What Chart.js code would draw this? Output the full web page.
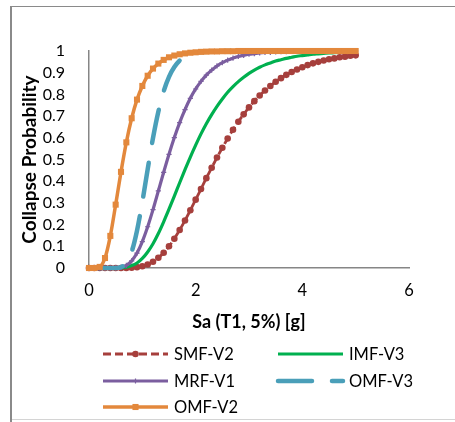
<!DOCTYPE html>
<html>
<head>
<meta charset="utf-8">
<title>Collapse fragility curves</title>
<script src="https://cdn.jsdelivr.net/npm/chart.js@4.4.1/dist/chart.umd.min.js"></script>
<style>
  html, body { margin: 0; padding: 0; background: #fff; }
  #wrap { width: 455px; height: 422px; position: relative; }
</style>
</head>
<body>
<div id="wrap"><canvas id="fragility" width="455" height="422"></canvas></div>
<script>
// Sa (T1, 5%) [g]
const saValues = [
  0, 0.1, 0.2, 0.3, 0.4, 0.5, 0.6, 0.7, 0.8, 0.9,
  1.0, 1.1, 1.2, 1.3, 1.4, 1.5, 1.6, 1.7, 1.8, 1.9,
  2.0, 2.1, 2.2, 2.3, 2.4, 2.5, 2.6, 2.7, 2.8, 2.9,
  3.0, 3.1, 3.2, 3.3, 3.4, 3.5, 3.6, 3.7, 3.8, 3.9,
  4.0, 4.1, 4.2, 4.3, 4.4, 4.5, 4.6, 4.7, 4.8, 4.9, 5.0
];

// collapse probability per frame
const smfV2 = [
  0, 0, 0, 0, 0, 0, 0, 0, 0.001, 0.004,
  0.008, 0.016, 0.029, 0.047, 0.070, 0.100, 0.135, 0.175, 0.219, 0.266,
  0.315, 0.364, 0.414, 0.462, 0.509, 0.554, 0.597, 0.637, 0.674, 0.708,
  0.740, 0.769, 0.795, 0.818, 0.839, 0.858, 0.875, 0.890, 0.903, 0.915,
  0.925, 0.935, 0.943, 0.950, 0.956, 0.962, 0.966, 0.971, 0.974, 0.978, 0.980
];
const imfV3 = [
  0, 0, 0, 0, 0, 0, 0.001, 0.004, 0.011, 0.023,
  0.044, 0.074, 0.112, 0.159, 0.213, 0.271, 0.331, 0.393, 0.453, 0.511,
  0.566, 0.618, 0.665, 0.707, 0.745, 0.779, 0.810, 0.836, 0.859, 0.879,
  0.897, 0.912, 0.925, 0.936, 0.945, 0.954, 0.960, 0.966, 0.971, 0.976,
  0.979, 0.982, 0.985, 0.987, 0.989, 0.991, 0.992, 0.993, 0.994, 0.995, 0.996
];
const mrfV1 = [
  0, 0, 0, 0, 0, 0.001, 0.003, 0.012, 0.033, 0.069,
  0.122, 0.190, 0.269, 0.355, 0.441, 0.524, 0.601, 0.670, 0.730, 0.782,
  0.825, 0.860, 0.889, 0.912, 0.931, 0.946, 0.958, 0.967, 0.975, 0.980,
  0.985, 0.988, 0.991, 0.993, 0.994, 0.996, 0.997, 0.997, 0.998, 0.998,
  0.999, 0.999, 0.999, 0.999, 0.999, 1, 1, 1, 1, 1, 1
];
const omfV3 = [
  0, 0, 0, 0, 0, 0, 0.004, 0.023, 0.075, 0.172,
  0.305, 0.455, 0.599, 0.720, 0.814, 0.881, 0.926, 0.956, 0.974, 0.985,
  0.991, 0.995, 0.997, 0.998, 0.999, 0.999, 1, 1, 1, 1,
  1, 1, 1, 1, 1, 1, 1, 1, 1, 1,
  1, 1, 1, 1, 1, 1, 1, 1, 1, 1, 1
];
const omfV2 = [
  0, 0, 0.005, 0.046, 0.148, 0.292, 0.443, 0.579, 0.690, 0.776,
  0.839, 0.886, 0.919, 0.942, 0.959, 0.971, 0.979, 0.985, 0.989, 0.992,
  0.994, 0.996, 0.997, 0.998, 0.998, 0.999, 0.999, 0.999, 1, 1,
  1, 1, 1, 1, 1, 1, 1, 1, 1, 1,
  1, 1, 1, 1, 1, 1, 1, 1, 1, 1, 1
];

const xTicks = [0, 2, 4, 6];
const yTicks = [0, 0.1, 0.2, 0.3, 0.4, 0.5, 0.6, 0.7, 0.8, 0.9, 1];

const toPoints = (ys) => saValues.map((x, i) => ({ x, y: ys[i] }));

const FONT = "Lato, 'Liberation Sans', sans-serif";
Chart.defaults.font.family = FONT;
Chart.defaults.color = "#000";

// ── Frame round the whole figure ─────────────────────────────────────────
const framePlugin = {
  id: "framePlugin",
  beforeDraw(chart) {
    const { ctx, width, height } = chart;
    ctx.save();
    ctx.fillStyle = "#fff";
    ctx.fillRect(0, 0, width, height);
    ctx.lineWidth = 1;
    ctx.strokeStyle = "#8a8a8a";
    ctx.beginPath();
    ctx.moveTo(10, 6.5);
    ctx.lineTo(width, 6.5);
    ctx.stroke();
    ctx.lineWidth = 2;
    ctx.beginPath();
    ctx.moveTo(11, 6);
    ctx.lineTo(11, height);
    ctx.stroke();
    ctx.lineWidth = 1;
    ctx.strokeStyle = "#d4d4d4";
    ctx.beginPath();
    ctx.moveTo(12, 419.5);
    ctx.lineTo(width, 419.5);
    ctx.stroke();
    ctx.restore();
  },
};

// ── Two-column legend under the axis title ───────────────────────────────
const legendSlots = [
  { index: 0, col: 0, row: 0 },
  { index: 1, col: 1, row: 0 },
  { index: 2, col: 0, row: 1 },
  { index: 3, col: 1, row: 1 },
  { index: 4, col: 0, row: 2 },
];
const legendCols = [103, 278];
const legendRows = [354, 381, 407];
const sampleLength = 65;

function drawMarker(ctx, ds, cx, cy) {
  const r = ds.pointRadius;
  if (!r) return;
  ctx.save();
  ctx.setLineDash([]);
  ctx.fillStyle = ds.pointBackgroundColor;
  ctx.strokeStyle = ds.pointBorderColor;
  ctx.lineWidth = ds.pointBorderWidth;
  if (ds.pointStyle === "circle") {
    ctx.beginPath();
    ctx.arc(cx, cy, r, 0, Math.PI * 2);
    ctx.fill();
  } else if (ds.pointStyle === "rect") {
    const s = (r * Math.SQRT2) / 2;
    ctx.fillRect(cx - s, cy - s, s * 2, s * 2);
  } else if (ds.pointStyle === "cross") {
    ctx.beginPath();
    ctx.moveTo(cx, cy - r);
    ctx.lineTo(cx, cy + r);
    ctx.moveTo(cx - r, cy);
    ctx.lineTo(cx + r, cy);
    ctx.stroke();
  }
  ctx.restore();
}

const legendPlugin = {
  id: "legendPlugin",
  afterDraw(chart) {
    const { ctx } = chart;
    ctx.save();
    ctx.font = "16.5px " + FONT;
    ctx.textBaseline = "middle";
    ctx.textAlign = "left";
    legendSlots.forEach((slot) => {
      const ds = chart.data.datasets[slot.index];
      const x0 = legendCols[slot.col];
      const y = legendRows[slot.row];
      ctx.save();
      ctx.strokeStyle = ds.borderColor;
      ctx.lineWidth = ds.borderWidth;
      ctx.lineCap = ds.borderCapStyle || "butt";
      ctx.setLineDash(ds.borderDash || []);
      ctx.beginPath();
      ctx.moveTo(x0, y);
      ctx.lineTo(x0 + sampleLength, y);
      ctx.stroke();
      ctx.restore();
      drawMarker(ctx, ds, x0 + sampleLength / 2, y);
      ctx.fillStyle = "#000";
      ctx.fillText(ds.label, x0 + sampleLength + 6, y + 1);
    });
    ctx.restore();
  },
};

const lineBase = {
  fill: false,
  cubicInterpolationMode: "monotone",
  clip: 12,
  pointHoverRadius: 0,
};

new Chart(document.getElementById("fragility"), {
  type: "line",
  data: {
    datasets: [
      {
        ...lineBase,
        label: "SMF-V2",
        data: toPoints(smfV2),
        borderColor: "#a63f3c",
        borderWidth: 2.8,
        borderDash: [8, 4],
        pointStyle: "circle",
        pointRadius: 3.3,
        pointBackgroundColor: "#a63f3c",
        pointBorderColor: "#a63f3c",
        pointBorderWidth: 0,
        order: 5,
      },
      {
        ...lineBase,
        label: "IMF-V3",
        data: toPoints(imfV3),
        borderColor: "#00b04f",
        borderWidth: 3.2,
        pointRadius: 0,
        order: 4,
      },
      {
        ...lineBase,
        label: "MRF-V1",
        data: toPoints(mrfV1),
        borderColor: "#7b5e9f",
        borderWidth: 3.2,
        pointStyle: "cross",
        pointRadius: 2.6,
        pointBackgroundColor: "#7b5e9f",
        pointBorderColor: "#7b5e9f",
        pointBorderWidth: 1.2,
        order: 3,
      },
      {
        ...lineBase,
        label: "OMF-V3",
        data: toPoints(omfV3),
        borderColor: "#4a9fb9",
        borderWidth: 4.5,
        borderDash: [34, 20],
        borderCapStyle: "round",
        pointRadius: 0,
        order: 2,
      },
      {
        ...lineBase,
        label: "OMF-V2",
        data: toPoints(omfV2),
        borderColor: "#e3883c",
        borderWidth: 3.5,
        pointStyle: "rect",
        pointRadius: 4.3,
        pointBackgroundColor: "#e3883c",
        pointBorderColor: "#e3883c",
        pointBorderWidth: 0,
        order: 1,
      },
    ],
  },
  options: {
    responsive: false,
    animation: false,
    events: [],
    layout: {
      padding: { left: 0, top: 51, right: 46, bottom: 89 },
    },
    plugins: {
      legend: { display: false },
      tooltip: { enabled: false },
    },
    scales: {
      x: {
        type: "linear",
        min: 0,
        max: 6,
        afterBuildTicks: (scale) => {
          scale.ticks = xTicks.map((value) => ({ value }));
        },
        afterFit: (scale) => {
          scale.height = 65;
        },
        grid: { display: false },
        border: { display: true, color: "#868686", width: 1.5 },
        ticks: {
          font: { size: 16.5 },
          color: "#000",
          padding: 5,
          maxRotation: 0,
          autoSkip: false,
          callback: (value) => String(value),
        },
        title: {
          display: true,
          text: "Sa (T1, 5%) [g]",
          font: { size: 18, weight: "bold" },
          color: "#000",
          padding: { top: 0, bottom: 0 },
        },
      },
      y: {
        type: "linear",
        min: 0,
        max: 1,
        afterBuildTicks: (scale) => {
          scale.ticks = yTicks.map((value) => ({ value }));
        },
        afterFit: (scale) => {
          scale.width = 89;
        },
        grid: { display: false },
        border: { display: true, color: "#868686", width: 1.5 },
        ticks: {
          font: { size: 16 },
          color: "#000",
          padding: 16,
          autoSkip: false,
          callback: (value) => String(value),
        },
        title: {
          display: true,
          text: "Collapse Probability",
          font: { size: 19, weight: "bold" },
          color: "#000",
          padding: { top: 18, bottom: 0 },
        },
      },
    },
  },
  plugins: [framePlugin, legendPlugin],
});
</script>
</body>
</html>
